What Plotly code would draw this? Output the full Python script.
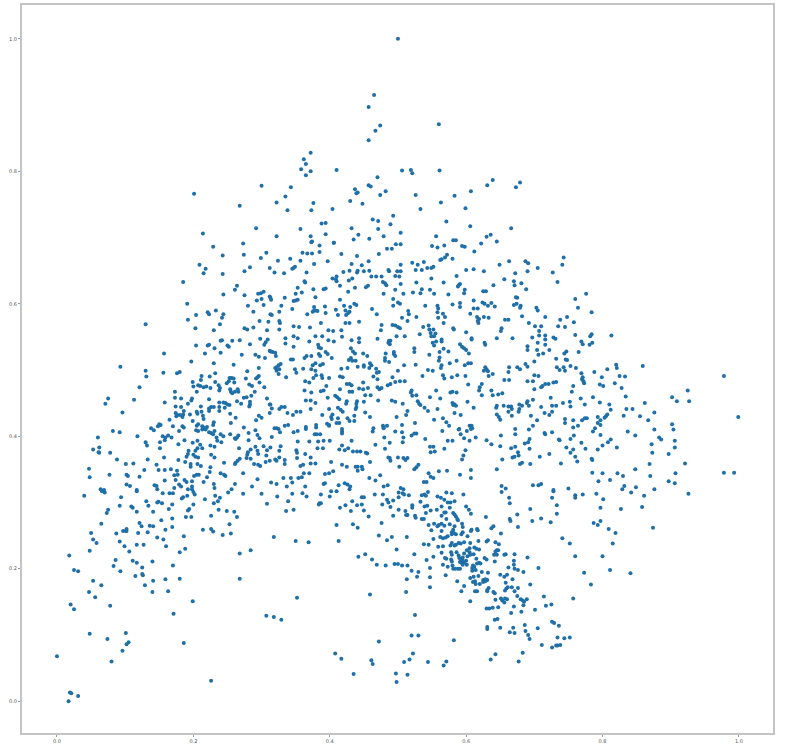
import plotly.graph_objects as go

# values, one list per region of the plot
top_points = [
    (.201,.766),(.268,.748),(.292,.714),(.214,.706),(.229,.686),(.273,.691),(.300,.778),(.322,.753),(.322,.702),
    (.500,1.000),(.465,.915),(.457,.897),(.474,.869),(.467,.861),(.457,.847),(.560,.871),(.372,.828),(.362,.818),
    (.365,.811),(.358,.803),(.372,.800),(.365,.794),(.410,.802),(.506,.801),(.519,.802),(.521,.797),(.561,.801),
    (.470,.791),(.457,.779),(.460,.777),(.437,.773),(.441,.768),(.439,.767),(.482,.770),(.474,.764),(.526,.764),
    (.343,.776),(.335,.762),(.376,.752),(.430,.755),(.448,.751),(.563,.753),(.583,.763),(.607,.770),(.631,.779),
    (.639,.787),(.673,.776),(.679,.783),(.338,.741),(.373,.741),(.404,.743),(.533,.743),(.599,.744),(.493,.733),
    (.463,.727),(.471,.725),(.571,.724),(.388,.721),(.394,.722),(.489,.720),(.606,.717),(.357,.713),(.432,.714),
    (.471,.713),(.666,.714),(.394,.705),(.504,.707),(.372,.702),(.442,.704),(.479,.702),(.556,.702),(.636,.704),
    (.630,.701),(.374,.694),(.406,.692),(.435,.697),(.458,.698),(.581,.696),(.585,.696),(.645,.694),(.622,.691),
]

left_upper_points = [
    (.243,.673),(.274,.674),(.307,.677),(.299,.669),(.209,.659),(.218,.653),(.215,.646),(.243,.645),(.275,.649),
    (.283,.655),(.185,.633),(.264,.627),(.261,.621),(.244,.614),(.275,.613),(.303,.618),(.299,.616),(.295,.615),
    (.312,.611),(.300,.607),(.293,.605),(.303,.598),(.280,.597),(.191,.600),(.221,.587),(.223,.584),(.233,.590),
    (.244,.584),(.242,.579),(.204,.583),(.192,.576),(.288,.588),(.315,.583),(.297,.574),(.310,.573),(.130,.569),
    (.239,.569),(.203,.563),(.230,.560),(.275,.563),(.279,.561),(.288,.564),(.308,.560),(.298,.547),(.309,.546),
    (.306,.542),(.304,.538),(.242,.545),(.240,.544),(.257,.544),(.268,.545),(.283,.539),(.204,.537),(.221,.537),
    (.223,.538),(.250,.537),(.252,.535),(.231,.533),(.313,.528),(.157,.525),(.217,.525),(.240,.526),(.271,.523),
    (.291,.523),(.296,.520),(.305,.518),(.197,.513),(.230,.510),(.259,.508),(.093,.505),(.130,.499),(.131,.490),
    (.156,.496),(.176,.495),(.180,.497),(.232,.495),(.279,.498),(.296,.503),(.212,.491),(.211,.485),(.224,.490),
    (.253,.488),(.256,.488),(.259,.487),(.277,.487),(.296,.491),(.294,.489),(.292,.487),(.199,.482),(.200,.475),
    (.232,.482),(.249,.480),(.252,.483),(.260,.481),(.297,.481),(.207,.477),(.210,.476),(.215,.474),(.219,.475),
    (.225,.473),(.237,.477),(.239,.473),(.282,.478),(.286,.476),(.304,.474),(.121,.474),(.205,.467),(.238,.469),
    (.254,.471),(.255,.467),(.257,.465),(.265,.471),(.266,.467),(.261,.467),(.290,.467),(.173,.467),(.075,.457),
    (.173,.458),(.182,.457),(.198,.457),(.197,.454),(.223,.456),(.274,.458),(.278,.459),(.285,.461),(.308,.457),
    (.113,.455),(.071,.449),(.158,.451),(.192,.449),(.264,.453),(.270,.449),(.283,.452),(.283,.448),(.282,.445),
    (.238,.451),(.238,.444),(.238,.438),(.244,.451),(.247,.450),(.250,.448),(.253,.447),(.230,.444),(.226,.444),
    (.223,.442),(.223,.438),(.174,.445),(.182,.444),(.186,.438),(.211,.445),(.246,.443),(.313,.448),(.096,.436),
    (.174,.435),(.176,.432),(.180,.432),(.185,.433),(.175,.430),(.184,.429),(.195,.433),(.205,.437),(.212,.437),
    (.206,.434),(.214,.431),(.215,.426),(.254,.434),(.262,.428),(.312,.435),(.296,.431),(.300,.428),(.292,.424),
    (.165,.425),(.199,.423),(.230,.421),(.229,.417),(.255,.420),(.150,.418),(.148,.415),(.152,.417),(.142,.409),
    (.138,.412),(.170,.415),(.184,.415),(.186,.413),(.207,.418),(.205,.416),(.213,.415),(.220,.414),(.215,.413),
    (.213,.410),(.218,.410),(.274,.413),(.291,.409),(.294,.402),
]

left_middle_points = [
    (.082,.408),(.092,.406),(.179,.408),(.204,.409),(.207,.408),(.223,.406),(.226,.405),(.231,.408),(.229,.403),
    (.254,.403),(.281,.405),(.118,.400),(.060,.398),(.155,.400),(.159,.398),(.163,.401),(.168,.398),(.158,.394),
    (.234,.398),(.240,.403),(.244,.400),(.261,.397),(.264,.398),(.266,.401),(.262,.396),(.281,.394),(.297,.397),
    (.187,.394),(.235,.393),(.241,.391),(.130,.391),(.132,.386),(.151,.391),(.178,.388),(.199,.390),(.206,.393),
    (.210,.387),(.213,.382),(.225,.386),(.231,.384),(.151,.382),(.062,.383),(.053,.380),(.061,.376),(.062,.375),
    (.078,.375),(.206,.382),(.203,.378),(.193,.378),(.192,.373),(.267,.382),(.284,.380),(.280,.376),(.279,.372),
    (.291,.384),(.303,.385),(.313,.383),(.308,.379),(.294,.378),(.295,.373),(.307,.371),(.157,.368),(.190,.369),
    (.200,.372),(.203,.369),(.207,.368),(.226,.372),(.231,.368),(.088,.365),(.133,.365),(.178,.364),(.188,.361),
    (.268,.366),(.265,.363),(.262,.360),(.261,.358),(.278,.367),(.284,.366),(.312,.363),(.306,.361),(.101,.358),
    (.112,.359),(.146,.357),(.149,.349),(.196,.358),(.196,.354),(.206,.358),(.211,.355),(.245,.360),(.225,.353),
    (.224,.346),(.289,.358),(.295,.357),(.298,.355),(.047,.351),(.048,.338),(.128,.349),(.158,.349),(.167,.350),
    (.176,.348),(.177,.342),(.077,.342),(.102,.342),(.104,.340),(.240,.344),(.245,.342),(.247,.340),(.273,.344),
    (.121,.339),(.172,.341),(.201,.340),(.205,.342),(.208,.342),(.220,.338),(.294,.335),(.158,.333),(.174,.334),
    (.187,.334),(.190,.331),(.198,.332),(.215,.331),(.102,.327),(.107,.325),(.143,.326),(.146,.325),(.179,.327),
    (.182,.324),(.198,.324),(.172,.322),(.192,.320),(.230,.328),(.231,.322),(.261,.328),(.286,.324),(.256,.320),
    (.064,.320),(.069,.319),(.117,.319),(.147,.320),(.198,.320),
]

left_lower_points = [
    (.040,.310),(.070,.315),(.066,.317),(.094,.308),(.117,.317),(.155,.314),(.165,.314),(.170,.314),(.185,.308),
    (.183,.306),(.191,.310),(.200,.316),(.202,.312),(.217,.305),(.232,.310),(.239,.307),(.236,.302),(.230,.299),
    (.251,.315),(.273,.313),(.300,.313),(.308,.298),(.092,.295),(.109,.294),(.111,.292),(.117,.286),(.131,.302),
    (.134,.295),(.147,.300),(.149,.301),(.154,.299),(.169,.297),(.164,.290),(.141,.286),(.200,.297),(.194,.290),
    (.192,.288),(.237,.289),(.249,.287),(.260,.286),(.264,.278),(.075,.289),(.073,.284),(.226,.280),(.189,.278),
    (.197,.278),(.169,.276),(.153,.273),(.065,.268),(.253,.267),(.121,.269),(.124,.264),(.136,.265),(.141,.264),
    (.169,.263),(.214,.259),(.226,.260),(.229,.256),(.159,.259),(.097,.257),(.101,.257),(.102,.260),(.102,.257),
    (.050,.254),(.087,.253),(.119,.254),(.133,.255),(.186,.249),(.243,.251),(.255,.253),(.147,.247),(.156,.244),
    (.053,.244),(.058,.239),(.092,.241),(.099,.234),(.117,.236),(.127,.236),(.160,.234),(.188,.230),(.180,.225),
    (.106,.226),(.048,.227),(.268,.223),(.284,.228),(.018,.220),(.086,.213),(.111,.212),(.117,.209),(.140,.211),
    (.083,.204),(.125,.202),(.170,.205),(.025,.198),(.031,.196),(.093,.196),(.115,.189),(.125,.192),(.126,.190),
    (.180,.185),(.268,.185),(.053,.182),(.141,.182),(.159,.184),(.065,.175),(.129,.175),(.047,.165),(.140,.165),
    (.163,.166),(.056,.157),(.199,.151),(.020,.146),(.025,.139),(.078,.144),(.171,.132),(.307,.129),(.048,.102),
    (.074,.094),(.101,.103),(.105,.089),(.102,.086),(.186,.088),(.000,.068),(.096,.076),(.080,.060),(.226,.031),
    (.019,.013),(.021,.012),(.031,.008),(.017,.000),
]

center_upper_points = [
    (.373,.693),(.385,.688),(.406,.692),(.497,.690),(.504,.690),(.484,.683),(.491,.683),(.550,.687),(.558,.685),
    (.568,.688),(.594,.687),(.598,.686),(.612,.679),(.360,.677),(.367,.676),(.374,.676),(.385,.678),(.417,.675),
    (.472,.675),(.440,.672),(.572,.674),(.569,.670),(.564,.667),(.562,.666),(.580,.668),(.342,.668),(.324,.665),
    (.357,.665),(.397,.664),(.457,.664),(.432,.660),(.377,.660),(.447,.658),(.521,.662),(.529,.659),(.538,.663),
    (.504,.659),(.649,.659),(.663,.664),(.687,.664),(.691,.661),(.349,.656),(.347,.654),(.345,.653),(.312,.654),
    (.319,.647),(.552,.656),(.549,.654),(.543,.654),(.526,.651),(.535,.651),(.499,.649),(.504,.649),(.486,.651),
    (.487,.649),(.420,.648),(.429,.650),(.441,.650),(.440,.647),(.450,.649),(.458,.650),(.600,.651),(.611,.652),
    (.626,.649),(.333,.646),(.366,.647),(.672,.646),(.496,.642),(.502,.641),(.461,.641),(.468,.641),(.476,.641),
    (.410,.641),(.404,.638),(.409,.637),(.410,.634),(.433,.638),(.428,.635),(.549,.638),(.586,.642),(.656,.637),
    (.670,.634),(.681,.631),(.363,.634),(.364,.632),(.478,.633),(.481,.631),(.483,.628),(.504,.630),(.527,.632),
    (.567,.632),(.591,.630),(.589,.628),(.588,.626),(.640,.628),(.671,.628),(.415,.627),(.456,.627),(.453,.625),
    (.353,.624),(.437,.624),(.394,.623),(.391,.622),(.376,.622),(.496,.621),(.535,.622),(.547,.621),(.598,.621),
    (.688,.622),(.629,.619),(.625,.619),(.359,.617),(.350,.615),(.427,.618),(.553,.615),(.508,.615),(.522,.617),
    (.533,.616),(.479,.615),(.574,.614),(.597,.616),(.379,.610),(.334,.609),(.313,.609),(.314,.606),(.673,.610),
    (.675,.609),(.350,.605),(.347,.604),(.353,.606),(.415,.606),(.493,.607),(.500,.602),(.503,.600),(.624,.602),
    (.627,.600),(.637,.601),(.632,.597),(.642,.596),(.611,.605),(.674,.600),(.670,.598),(.680,.597),(.679,.594),
    (.329,.597),(.377,.595),(.393,.596),(.421,.597),(.430,.595),(.436,.600),(.439,.598),(.462,.592),(.493,.597),
    (.540,.597),(.558,.597),(.559,.593),(.580,.599),(.591,.601),(.591,.595),(.345,.592),(.326,.588),(.375,.588),
    (.379,.590),(.382,.589),(.377,.590),(.367,.584),(.409,.591),(.423,.590),(.429,.588),(.427,.586),(.424,.583),
    (.394,.586),(.412,.583),(.469,.584),(.515,.589),(.558,.587),(.566,.585),(.611,.593),(.617,.593),(.606,.585),
    (.516,.584),(.506,.579),(.527,.580),(.514,.574),(.559,.579),(.569,.580),(.616,.580),(.619,.577),(.626,.580),
    (.633,.579),(.617,.574),(.618,.571),(.682,.581),(.657,.576),(.662,.576),(.326,.574),(.327,.571),(.313,.584),
    (.423,.571),(.429,.571),(.443,.573),(.387,.571),(.567,.571),(.692,.571),(.690,.649),
]

center_middle_points = [
    (.492,.568),(.496,.567),(.500,.565),(.503,.563),(.476,.568),(.475,.560),(.545,.567),(.537,.565),(.347,.566),
    (.355,.565),(.371,.564),(.326,.561),(.581,.563),(.582,.561),(.652,.563),(.651,.559),(.552,.561),(.546,.561),
    (.548,.556),(.555,.555),(.398,.560),(.405,.559),(.417,.560),(.532,.554),(.600,.557),(.498,.551),(.510,.551),
    (.379,.551),(.389,.551),(.347,.551),(.353,.548),(.335,.548),(.549,.551),(.553,.551),(.418,.550),(.432,.545),
    (.443,.548),(.608,.548),(.608,.546),(.564,.546),(.564,.543),(.556,.543),(.645,.548),(.668,.548),(.398,.545),
    (.443,.542),(.470,.547),(.487,.544),(.489,.544),(.486,.541),(.488,.539),(.370,.543),(.335,.540),(.406,.543),
    (.551,.541),(.553,.537),(.627,.541),(.628,.538),(.347,.535),(.383,.538),(.384,.534),(.387,.533),(.431,.533),
    (.434,.528),(.437,.525),(.494,.527),(.494,.524),(.496,.521),(.482,.525),(.481,.518),(.524,.533),(.524,.527),
    (.591,.539),(.594,.535),(.597,.533),(.600,.530),(.567,.532),(.561,.527),(.574,.528),(.604,.525),(.690,.536),
    (.690,.530),(.312,.529),(.316,.527),(.320,.526),(.321,.521),(.546,.523),(.384,.524),(.386,.521),(.394,.527),
    (.397,.524),(.403,.518),(.363,.518),(.366,.521),(.373,.521),(.449,.525),(.455,.521),(.561,.519),(.560,.514),
    (.343,.516),(.346,.516),(.431,.518),(.428,.515),(.433,.514),(.438,.514),(.379,.510),(.375,.507),(.386,.507),
    (.390,.509),(.373,.501),(.379,.499),(.586,.514),(.481,.514),(.487,.512),(.459,.510),(.450,.507),(.458,.503),
    (.441,.505),(.598,.507),(.603,.510),(.607,.510),(.526,.508),(.576,.510),(.564,.507),(.563,.503),(.509,.507),
    (.322,.504),(.325,.507),(.328,.509),(.320,.503),(.326,.501),(.322,.499),(.325,.494),(.349,.501),(.351,.496),
    (.361,.502),(.417,.502),(.426,.503),(.628,.504),(.630,.501),(.626,.499),(.632,.498),(.450,.505),(.461,.507),
    (.468,.502),(.472,.497),(.469,.496),(.500,.499),(.544,.500),(.551,.499),(.663,.504),(.662,.497),(.675,.504),
    (.679,.501),(.687,.509),(.690,.505),(.639,.494),(.633,.491),(.566,.492),(.568,.487),(.579,.489),(.587,.492),
    (.599,.491),(.536,.491),(.376,.488),(.380,.492),(.388,.492),(.389,.488),(.399,.488),(.336,.489),(.415,.490),
    (.419,.489),(.464,.490),(.470,.486),(.492,.489),(.364,.483),(.370,.481),(.425,.479),(.429,.479),(.432,.477),
    (.485,.477),(.489,.479),(.496,.482),(.503,.483),(.510,.483),(.395,.476),(.449,.481),(.443,.472),(.449,.471),
    (.456,.473),(.470,.474),(.473,.471),(.476,.473),(.623,.479),(.620,.474),(.619,.469),(.603,.478),(.656,.485),
    (.663,.485),(.363,.469),(.415,.471),(.391,.469),(.387,.468),(.637,.469),(.556,.469),(.520,.469),(.519,.466),
    (.373,.466),(.433,.467),(.429,.467),(.580,.467),(.577,.466),(.586,.466),(.639,.462),(.647,.463),(.653,.465),
    (.623,.462),(.452,.462),(.460,.462),(.408,.461),(.411,.459),(.414,.456),(.397,.458),(.365,.454),(.372,.454),
    (.521,.461),(.527,.462),(.529,.453),(.531,.449),(.533,.447),(.547,.459),(.562,.457),(.425,.453),(.424,.449),
    (.440,.453),(.439,.449),(.439,.444),(.491,.454),(.496,.452),(.507,.449),(.471,.454),(.450,.452),(.379,.450),
    (.580,.450),(.583,.448),(.581,.447),(.585,.446),(.602,.452),(.645,.446),(.655,.446),(.662,.445),(.666,.445),
    (.678,.448),(.682,.446),(.689,.450),(.692,.446),
]

center_lower_points = [
    (.312,.448),(.315,.442),(.329,.444),(.334,.444),(.326,.441),(.372,.441),(.399,.441),(.412,.443),(.416,.440),
    (.419,.437),(.438,.441),(.404,.433),(.583,.435),(.592,.432),(.611,.443),(.539,.443),(.544,.438),(.558,.441),
    (.566,.427),(.338,.435),(.346,.432),(.351,.437),(.357,.437),(.452,.436),(.459,.429),(.436,.431),(.512,.432),
    (.514,.438),(.498,.429),(.426,.427),(.429,.423),(.412,.427),(.389,.432),(.402,.429),(.403,.426),(.662,.437),
    (.667,.441),(.678,.441),(.677,.437),(.667,.431),(.645,.433),(.648,.429),(.650,.425),(.644,.443),(.525,.420),
    (.553,.425),(.571,.421),(.575,.416),(.436,.423),(.414,.420),(.410,.420),(.365,.414),(.365,.411),(.380,.417),
    (.380,.413),(.399,.417),(.396,.419),(.399,.416),(.334,.416),(.339,.417),(.319,.412),(.322,.412),(.325,.411),
    (.327,.406),(.347,.406),(.353,.408),(.478,.416),(.479,.412),(.484,.416),(.479,.413),(.506,.417),(.464,.412),
    (.463,.407),(.418,.411),(.418,.407),(.418,.404),(.381,.403),(.378,.403),(.386,.403),(.590,.411),(.601,.408),
    (.592,.403),(.605,.416),(.608,.416),(.607,.411),(.609,.412),(.651,.401),(.672,.411),(.672,.403),(.692,.410),
    (.565,.408),(.589,.410),(.506,.406),(.527,.404),(.524,.404),(.520,.401),(.496,.407),(.508,.398),(.480,.398),
    (.315,.399),(.540,.396),(.573,.393),(.580,.393),(.597,.397),(.605,.393),(.614,.398),(.630,.394),(.637,.388),
    (.353,.392),(.370,.392),(.383,.392),(.391,.393),(.400,.393),(.432,.393),(.488,.390),(.507,.391),(.650,.385),
    (.666,.382),(.672,.384),(.686,.389),(.691,.391),(.328,.385),(.326,.378),(.382,.382),(.390,.382),(.414,.380),
    (.422,.379),(.427,.382),(.418,.386),(.467,.387),(.481,.381),(.547,.384),(.552,.384),(.554,.377),(.548,.376),
    (.568,.381),(.351,.379),(.352,.375),(.364,.373),(.434,.377),(.440,.377),(.445,.377),(.453,.375),(.455,.374),
    (.599,.379),(.596,.371),(.594,.365),(.676,.376),(.677,.371),(.668,.368),(.671,.369),(.372,.368),(.352,.367),
    (.334,.364),(.320,.365),(.322,.363),(.326,.368),(.486,.368),(.488,.367),(.489,.363),(.500,.368),(.508,.367),
    (.514,.367),(.511,.364),(.653,.365),(.459,.361),(.402,.361),(.379,.359),(.372,.359),(.361,.357),(.357,.355),
    (.334,.358),(.418,.357),(.425,.354),(.682,.360),(.679,.358),(.530,.357),(.527,.353),(.524,.350),(.502,.354),
    (.438,.354),(.441,.354),(.447,.354),(.448,.350),(.441,.348),(.645,.350),(.607,.349),(.572,.348),(.560,.347),
    (.545,.344),(.548,.339),(.552,.337),(.405,.347),(.399,.344),(.393,.343),(.362,.344),(.370,.344),(.591,.342),
    (.607,.337),(.332,.337),(.343,.337),(.354,.337),(.359,.338),(.345,.330),(.458,.337),(.467,.333),(.479,.324),
    (.485,.326),(.474,.341),(.393,.329),(.391,.328),(.422,.329),(.426,.327),(.430,.324),(.413,.326),(.429,.320),
    (.538,.331),(.542,.331),(.504,.322),(.508,.320),(.652,.325),(.658,.321),(.337,.324),(.364,.324),(.314,.330),
    (.322,.328),
]

bottom_center_points = [
    (.323,.309),(.345,.313),(.360,.314),(.366,.309),(.387,.312),(.400,.309),(.402,.317),(.410,.317),(.339,.302),
    (.387,.299),(.385,.299),(.384,.297),(.336,.287),(.347,.289),(.466,.312),(.478,.312),(.501,.315),(.507,.314),
    (.509,.312),(.516,.311),(.501,.308),(.535,.311),(.539,.312),(.541,.310),(.544,.316),(.447,.308),(.450,.308),
    (.484,.304),(.486,.300),(.493,.303),(.477,.297),(.433,.302),(.423,.296),(.440,.296),(.447,.297),(.415,.292),
    (.431,.287),(.450,.288),(.457,.279),(.501,.289),(.511,.287),(.512,.281),(.514,.281),(.493,.280),(.489,.293),
    (.521,.296),(.521,.292),(.533,.301),(.539,.294),(.543,.295),(.541,.284),(.548,.288),(.557,.289),(.525,.280),
    (.526,.277),(.535,.275),(.538,.275),(.558,.309),(.563,.307),(.568,.304),(.573,.300),(.577,.300),(.583,.302),
    (.571,.315),(.579,.314),(.596,.312),(.564,.294),(.576,.292),(.568,.285),(.570,.285),(.564,.280),(.581,.284),
    (.583,.282),(.585,.279),(.587,.275),(.571,.275),(.588,.273),(.600,.294),(.604,.289),(.607,.283),(.629,.278),
    (.652,.316),(.663,.307),(.664,.299),(.664,.275),(.665,.272),(.675,.282),(.676,.263),(.410,.266),(.434,.267),
    (.441,.262),(.476,.269),(.318,.248),(.350,.242),(.369,.240),(.413,.242),(.472,.250),(.484,.243),(.491,.248),
    (.513,.248),
]

cluster_points = [
    (.545,.266),(.553,.268),(.558,.264),(.560,.266),(.564,.268),(.568,.265),(.576,.267),(.583,.264),(.594,.268),
    (.595,.263),(.549,.258),(.564,.257),(.581,.259),(.579,.255),(.582,.254),(.595,.255),(.593,.252),(.608,.259),
    (.607,.257),(.616,.260),(.617,.258),(.637,.261),(.640,.264),(.651,.253),(.579,.252),(.585,.252),(.602,.249),
    (.562,.248),(.566,.246),(.570,.247),(.573,.249),(.552,.245),(.597,.240),(.589,.239),(.579,.239),(.583,.235),
    (.585,.236),(.592,.238),(.606,.239),(.618,.242),(.630,.241),(.632,.243),(.643,.240),(.648,.237),(.538,.237),
    (.545,.236),(.559,.233),(.566,.234),(.577,.235),(.612,.232),(.615,.230),(.619,.229),(.605,.231),(.601,.228),
    (.645,.228),(.647,.228),(.643,.226),(.498,.229),(.524,.222),(.564,.224),(.578,.225),(.579,.221),(.586,.225),
    (.597,.223),(.605,.225),(.606,.221),(.611,.222),(.658,.222),(.656,.221),(.671,.222),(.552,.218),(.569,.216),
    (.571,.215),(.578,.214),(.589,.220),(.590,.216),(.593,.215),(.595,.217),(.602,.219),(.600,.212),(.615,.215),
    (.627,.216),(.630,.214),(.641,.221),(.645,.221),(.690,.217),(.442,.218),(.452,.222),(.462,.214),(.469,.206),
    (.482,.205),(.495,.207),(.500,.207),(.506,.205),(.514,.205),(.542,.213),(.592,.211),(.595,.212),(.591,.210),
    (.593,.209),(.597,.209),(.595,.206),(.579,.211),(.601,.206),(.619,.209),(.621,.208),(.642,.211),(.670,.212),
    (.670,.206),(.566,.206),(.573,.203),(.580,.205),(.581,.200),(.584,.200),(.588,.200),(.591,.200),(.610,.205),
    (.609,.201),(.612,.203),(.614,.198),(.616,.208),(.609,.197),(.662,.202),(.671,.200),(.676,.198),(.684,.195),
    (.547,.201),(.520,.197),(.530,.195),(.528,.188),(.547,.187),(.570,.190),(.632,.194),(.623,.195),(.650,.191),
    (.660,.191),(.656,.188),(.668,.184),(.606,.186),(.611,.188),(.618,.189),(.613,.181),(.610,.180),(.614,.177),
    (.620,.177),(.625,.183),(.628,.184),(.631,.183),(.628,.181),(.625,.180),(.587,.181),(.597,.174),(.658,.179),
    (.661,.172),(.659,.170),(.657,.167),(.676,.171),(.671,.166),(.667,.172),(.513,.184),(.547,.172),(.512,.165),
    (.593,.166),(.613,.166),(.616,.166),(.633,.171),(.631,.168),(.631,.166),(.640,.165),(.642,.163),(.459,.161),
    (.352,.156),(.606,.151),(.675,.159),(.643,.153),(.651,.155),(.653,.152),(.657,.155),(.660,.154),(.656,.149),
    (.680,.154),(.683,.152),(.685,.150),(.689,.154),(.684,.145),(.630,.140),(.634,.140),(.639,.141),(.647,.142),
    (.670,.143),(.666,.133),(.681,.135),(.525,.130),(.318,.127),(.329,.123),(.642,.123),(.646,.124),(.631,.112),
    (.631,.109),(.650,.111),(.669,.111),(.664,.104),(.671,.103),(.686,.115),(.687,.106),(.691,.100),(.693,.094),
    (.520,.099),(.530,.099),(.582,.092),(.472,.090),(.683,.073),(.643,.071),(.522,.072),(.408,.072),(.417,.064),
    (.461,.062),(.463,.056),(.509,.059),(.517,.063),(.544,.059),(.571,.060),(.567,.054),(.636,.063),(.677,.060),
    (.435,.041),(.497,.042),(.514,.040),(.498,.029),
]

right_upper_points = [
    (.743,.670),(.741,.659),(.705,.654),(.727,.647),(.734,.633),(.776,.615),(.760,.607),(.764,.594),(.784,.587),
    (.703,.594),(.705,.590),(.716,.580),(.738,.576),(.748,.580),(.701,.566),(.710,.566),(.735,.566),(.745,.565),
    (.758,.572),(.707,.559),(.707,.552),(.716,.552),(.716,.546),(.716,.538),(.697,.549),(.705,.541),(.728,.549),
    (.731,.547),(.760,.553),(.784,.554),(.782,.551),(.813,.552),(.769,.543),(.771,.539),(.785,.541),(.781,.538),
    (.704,.530),(.706,.523),(.713,.525),(.722,.530),(.765,.527),(.747,.528),(.744,.525),(.732,.517),(.746,.516),
    (.748,.515),(.700,.513),(.733,.504),(.737,.500),(.743,.504),(.745,.499),(.753,.506),(.761,.503),(.820,.508),
    (.821,.503),(.807,.501),(.788,.497),(.859,.506),(.769,.495),(.771,.489),(.770,.486),(.772,.483),(.773,.480),
    (.799,.489),(.825,.491),(.833,.490),(.978,.491),(.700,.492),(.706,.491),(.698,.483),(.690,.483),(.732,.482),
    (.728,.481),(.721,.479),(.716,.479),(.712,.476),(.710,.474),(.818,.480),(.796,.478),(.801,.476),(.757,.476),
    (.828,.473),(.700,.471),(.755,.467),(.925,.469),
]

right_lower_points = [
    (.902,.459),(.909,.453),(.927,.453),(.834,.460),(.786,.459),(.768,.457),(.724,.458),(.698,.455),(.690,.453),
    (.742,.450),(.752,.452),(.753,.445),(.774,.448),(.796,.451),(.810,.448),(.812,.440),(.862,.450),(.726,.446),
    (.732,.446),(.710,.444),(.835,.441),(.844,.441),(.876,.436),(.726,.437),(.715,.435),(.722,.432),(.695,.431),
    (.831,.431),(.855,.430),(.999,.429),(.793,.429),(.807,.433),(.805,.430),(.803,.428),(.745,.426),(.745,.420),
    (.757,.424),(.770,.424),(.774,.427),(.777,.427),(.797,.424),(.793,.420),(.797,.417),(.764,.416),(.867,.424),
    (.704,.424),(.698,.416),(.902,.418),(.904,.410),(.876,.410),(.757,.413),(.789,.412),(.786,.407),(.837,.407),
    (.726,.406),(.715,.405),(.716,.403),(.758,.401),(.797,.402),(.848,.401),(.693,.396),(.736,.395),(.737,.394),
    (.753,.396),(.812,.395),(.808,.391),(.800,.386),(.793,.380),(.883,.398),(.886,.395),(.906,.393),(.872,.388),
    (.906,.383),(.769,.390),(.775,.381),(.747,.383),(.757,.380),(.821,.383),(.693,.381),(.873,.375),(.897,.373),
    (.722,.373),(.708,.369),(.753,.375),(.760,.369),(.763,.362),(.784,.366),(.785,.364),(.739,.359),(.694,.358),
    (.921,.359),(.869,.358),(.848,.350),(.785,.345),(.800,.344),(.822,.344),(.830,.340),(.870,.340),(.907,.344),
    (.978,.345),(.993,.345),(.794,.332),(.811,.334),(.897,.332),(.906,.329),(.698,.326),(.706,.326),(.710,.328),
    (.750,.321),(.849,.323),(.832,.325),(.876,.320),(.829,.320),(.728,.319),(.728,.317),(.760,.311),(.760,.307),
    (.771,.312),(.791,.313),(.801,.305),(.726,.307),(.733,.296),(.861,.310),(.842,.315),(.926,.313),(.797,.292),
    (.827,.290),(.858,.293),(.694,.290),(.733,.283),(.697,.272),(.710,.276),(.724,.270),(.787,.269),(.793,.266),
    (.797,.272),(.874,.262),(.809,.260),(.819,.254),(.815,.238),(.741,.246),(.752,.238),(.760,.219),(.800,.219),
    (.706,.201),(.773,.194),(.811,.198),(.841,.193),(.694,.176),(.783,.176),(.757,.155),(.714,.158),(.725,.146),
    (.717,.144),(.701,.138),(.726,.120),(.729,.118),(.736,.114),(.705,.110),(.734,.096),(.744,.095),(.752,.096),
    (.711,.085),(.726,.081),(.732,.084),(.734,.084),(.738,.085),
]

tick_values = [0.0, 0.2, 0.4, 0.6, 0.8, 1.0]

all_points = (top_points + left_upper_points + left_middle_points + left_lower_points
              + center_upper_points + center_middle_points + center_lower_points
              + bottom_center_points + cluster_points + right_upper_points + right_lower_points)
x_values = [p[0] for p in all_points]
y_values = [p[1] for p in all_points]

fig = go.Figure(go.Scatter(
    x=x_values, y=y_values, mode="markers",
    marker=dict(size=4, color="#1f6fa8", line=dict(width=0)),
))

axis_style = dict(
    tickvals=tick_values, tickformat=".1f", showgrid=False, zeroline=False,
    showline=True, linecolor="#c4c4c4", linewidth=2, mirror=True,
    ticks="outside", ticklen=2, tickwidth=1, tickcolor="#999999",
    tickfont=dict(family="DejaVu Sans", size=5, color="#555555"),
)

fig.update_layout(
    width=787, height=749,
    margin=dict(l=22, r=14, t=3, b=16),
    plot_bgcolor="white", paper_bgcolor="white",
    showlegend=False,
    xaxis=dict(range=[-0.0513, 1.05], **axis_style),
    yaxis=dict(range=[-0.048, 1.051], **axis_style),
)

fig.write_html("out.html", config={"displayModeBar": False},
               post_script="document.body.style.margin='0';")
